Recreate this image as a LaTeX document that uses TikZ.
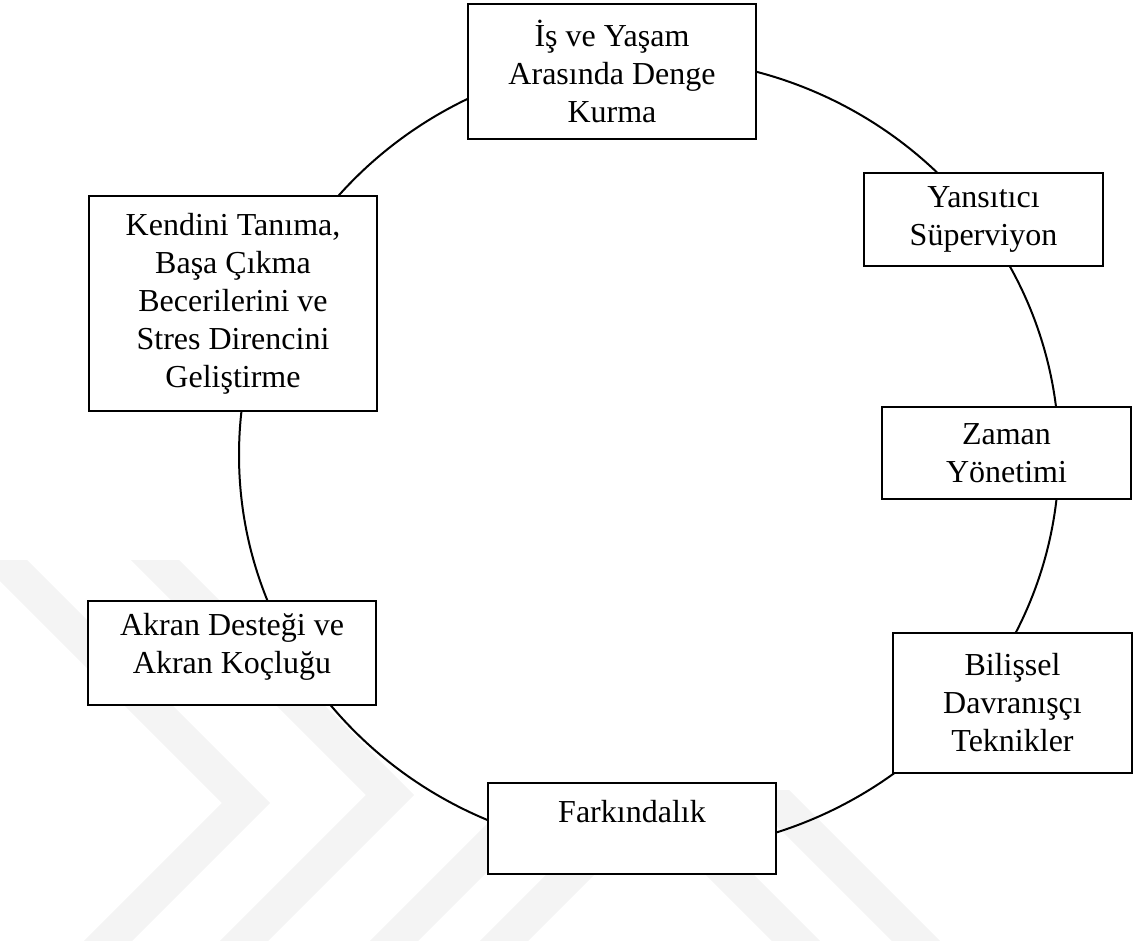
\documentclass[tikz,border=0pt]{standalone}
\usepackage{fontspec}
\setmainfont{Liberation Serif}
\begin{document}
\begin{tikzpicture}[x=0.5pt,y=-0.5pt,
  box/.style={draw=black, line width=0.8pt, fill=white, inner sep=0pt, align=center,
    font=\fontsize{16}{19}\selectfont},
  txt/.style={inner sep=0pt, align=center, font=\fontsize{16}{19}\selectfont},
  wm/.style={draw=gray!9, line width=17pt, line join=miter, line cap=butt},
  ring/.style={draw=black, line width=1pt}]
\useasboundingbox (0,0) rectangle (1134,947);
% faint watermark
\begin{scope}
  \clip (0,560) rectangle (1134,940);
  \draw[wm] (-40,517) -- (246,803) -- (60,989);
  \draw[wm] (110,515) -- (390,795) -- (196,989);
\end{scope}
\begin{scope}
  \clip (0,790) rectangle (1134,940);
  \draw[wm] (335,1000) -- (655,680) -- (1025,1050);
  \draw[wm] (445,1000) -- (650,795) -- (855,1000);
\end{scope}
% ring
\draw[ring] (649,455) ellipse [x radius=410, y radius=397];
% boxes
\node[box, minimum width=144pt, minimum height=67.5pt] (denge) at (612,71.5)
  {İş ve Yaşam\\Arasında Denge\\Kurma};
\node[box, minimum width=119.5pt, minimum height=46.5pt] (super) at (983.5,219.5)
  {Yansıtıcı\\Süperviyon};
\node[box, minimum width=144pt, minimum height=107.5pt] (kendini) at (233,303.5)
  {Kendini Tanıma,\\Başa Çıkma\\Becerilerini ve\\Stres Direncini\\Geliştirme};
\node[box, minimum width=124.5pt, minimum height=46pt] (zaman) at (1006.5,453)
  {Zaman\\Yönetimi};
\node[box, minimum width=144pt, minimum height=52pt] (akran) at (232,653) {};
\node[txt] (akrantxt) at (232,647) {Akran Desteği ve\\Akran Koçluğu};
\node[box, minimum width=119.5pt, minimum height=70pt] (bdt) at (1012.5,703)
  {Bilişsel\\Davranışçı\\Teknikler};
\node[box, minimum width=144pt, minimum height=45.5pt] (fark) at (632,828.5) {};
\node[txt] (farktxt) at (632,812) {Farkındalık};
\end{tikzpicture}
\end{document}
